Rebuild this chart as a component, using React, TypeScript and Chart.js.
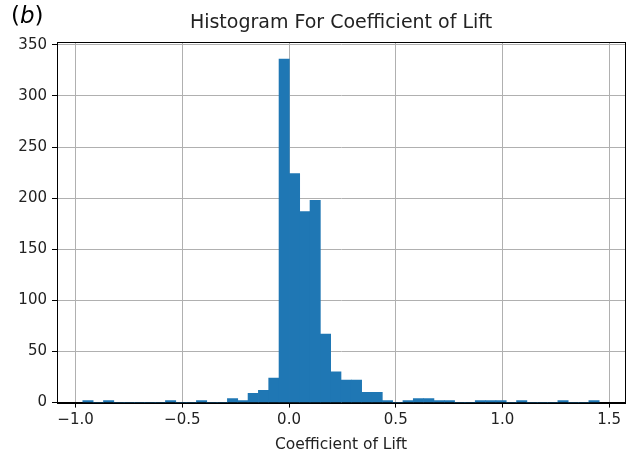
import React, { useEffect, useRef } from "react";
import { Chart, registerables } from "chart.js";

Chart.register(...registerables);

// Histogram definition: 50 equal-width bins
const binStart = -0.966;
const binWidth = 0.04838;
const counts = [
  2, 0, 2, 0, 0, 0, 0, 0, 2, 0,
  0, 2, 0, 0, 4, 2, 9, 12, 24, 336,
  224, 187, 198, 67, 30, 22, 22, 10, 10, 2,
  0, 2, 4, 4, 2, 2, 0, 0, 2, 2,
  2, 0, 2, 0, 0, 0, 2, 0, 0, 2,
];
const xTicks = [-1.0, -0.5, 0.0, 0.5, 1.0, 1.5];
const yTicks = [0, 50, 100, 150, 200, 250, 300, 350];
const titleText = "Histogram For Coefficient of Lift";
const xLabel = "Coefficient of Lift";
const panelLetter = "b";

const FONT = "'DejaVu Sans', sans-serif";

export default function App() {
  const ref = useRef<HTMLCanvasElement>(null);

  useEffect(() => {
    document.body.style.margin = "0";
    const canvas = ref.current!;
    const data = counts.map((c, k) => ({ x: binStart + (k + 0.5) * binWidth, y: c }));
    const xMin = binStart - 0.05 * binWidth * counts.length;
    const xMax = binStart + 1.05 * binWidth * counts.length;
    const yMax = Math.max(...counts) * 1.05;

    const framePlugin = {
      id: "frame",
      afterDraw(chart: any) {
        const { ctx, chartArea } = chart;
        ctx.save();
        ctx.strokeStyle = "#000";
        ctx.lineWidth = 1;
        ctx.strokeRect(
          Math.round(chartArea.left) + 0.5,
          Math.round(chartArea.top) + 0.5,
          Math.round(chartArea.right - chartArea.left),
          Math.round(chartArea.bottom - chartArea.top)
        );
        // panel letter "(b)"
        ctx.fillStyle = "#000";
        ctx.textBaseline = "middle";
        ctx.textAlign = "left";
        let x = 11;
        const y = 17;
        ctx.font = `23px ${FONT}`;
        ctx.fillText("(", x, y);
        x += ctx.measureText("(").width;
        ctx.font = `italic 23px ${FONT}`;
        ctx.fillText(panelLetter, x, y);
        x += ctx.measureText(panelLetter).width;
        ctx.font = `23px ${FONT}`;
        ctx.fillText(")", x, y);
        ctx.restore();
      },
    };

    const chart = new Chart(canvas, {
      type: "bar",
      data: {
        datasets: [
          {
            data,
            backgroundColor: "#1f77b4",
            borderWidth: 0,
            barPercentage: 1,
            categoryPercentage: 1,
          },
        ],
      },
      options: {
        animation: false,
        responsive: false,
        maintainAspectRatio: false,
        layout: { padding: { top: 0, right: 7, bottom: 0, left: 0 } },
        plugins: {
          legend: { display: false },
          tooltip: { enabled: false },
          title: {
            display: true,
            text: titleText,
            fullSize: false,
            color: "#222",
            font: { family: FONT, size: 19, weight: "normal" },
            padding: { top: 11.4, bottom: 7.8 },
          },
        },
        scales: {
          x: {
            type: "linear",
            min: xMin,
            max: xMax,
            offset: false,
            z: 1,
            afterFit(scale: any) {
              scale.height = 57.4;
            },
            afterBuildTicks(scale: any) {
              scale.ticks = xTicks.map((v) => ({ value: v }));
            },
            grid: {
              offset: false,
              color: "#b0b0b0",
              lineWidth: 1,
              tickColor: "#000",
              tickLength: 5,
              drawTicks: true,
            },
            border: { color: "#000", width: 1 },
            ticks: {
              color: "#222",
              padding: 4,
              maxRotation: 0,
              autoSkip: false,
              font: { family: FONT, size: 15 },
              callback: (v: any) => Number(v).toFixed(1).replace("-", "\u2212"),
            },
            title: {
              display: true,
              text: xLabel,
              color: "#222",
              font: { family: FONT, size: 15.5 },
              padding: { top: 0, bottom: 5.7 },
            },
          },
          y: {
            type: "linear",
            min: 0,
            max: yMax,
            z: 1,
            afterFit(scale: any) {
              scale.width = 57;
            },
            afterBuildTicks(scale: any) {
              scale.ticks = yTicks.map((v) => ({ value: v }));
            },
            grid: {
              offset: false,
              color: "#b0b0b0",
              lineWidth: 1,
              tickColor: "#000",
              tickLength: 5,
              drawTicks: true,
            },
            border: { color: "#000", width: 1 },
            ticks: {
              color: "#222",
              padding: 5,
              autoSkip: false,
              font: { family: FONT, size: 15 },
              callback: (v: any) => String(v),
            },
          },
        },
      },
      plugins: [framePlugin],
    });
    return () => chart.destroy();
  }, []);

  return (
    <div style={{ position: "absolute", left: 0, top: 0, width: 632, height: 460, background: "#fff" }}>
      <canvas ref={ref} width={632} height={460} style={{ width: 632, height: 460, display: "block" }} />
    </div>
  );
}
